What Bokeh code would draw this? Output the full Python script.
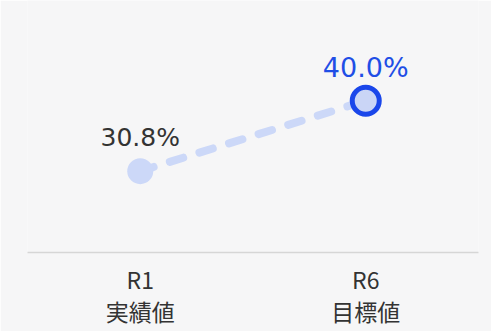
from bokeh.plotting import figure
from bokeh.models import FactorRange, Range1d
from bokeh.core.properties import value
from bokeh.embed import file_html
from bokeh.resources import INLINE

categories = ["R1\n実績値", "R6\n目標値"]
values = [30.8, 40.0]
value_labels = ["30.8%", "40.0%"]

BG = "#f6f6f7"

p = figure(width=491, height=331, output_backend="svg", toolbar_location=None,
           x_range=FactorRange(factors=categories, range_padding=0),
           y_range=Range1d(20.17, 53.09),
           min_border_left=27, min_border_right=13, min_border_top=0, min_border_bottom=10,
           background_fill_color=BG, border_fill_color=BG, outline_line_color=None)

p.xgrid.visible = False
p.ygrid.visible = False
p.yaxis.visible = False

ax = p.xaxis[0]
ax.axis_line_color = "#d6d6d6"
ax.axis_line_width = 1.5
ax.major_tick_line_color = None
ax.minor_tick_line_color = None
ax.major_tick_out = 0
ax.major_tick_in = 0
ax.major_label_text_font = "Noto Sans CJK JP"
ax.major_label_text_font_size = "23px"
ax.major_label_text_color = "#333333"
ax.major_label_text_line_height = 0.97
ax.major_label_standoff = 9

# dashed connector
p.line(x=categories, y=values, line_color="#ccd8f8", line_width=8,
       line_dash="14 17", line_cap="round")

# actual value point
p.scatter(x=[categories[0]], y=[values[0]], size=26, fill_color="#ccd8f8",
          line_color=None)
# target value point
p.scatter(x=[categories[1]], y=[values[1]], size=27, fill_color="#cad5f6",
          line_color="#1a46ea", line_width=5)

p.text(x=[categories[0]], y=[values[0]], text=[value_labels[0]], y_offset=-34,
       text_align="center", text_baseline="alphabetic",
       text_font=value("DejaVu Sans"), text_font_size="25px", text_color="#333333")
p.text(x=[categories[1]], y=[values[1]], text=[value_labels[1]], y_offset=-33,
       text_align="center", text_baseline="alphabetic",
       text_font=value("DejaVu Sans"), text_font_size="27px", text_color="#1f4ee6")

open("out.html", "w").write(file_html(p, INLINE))
